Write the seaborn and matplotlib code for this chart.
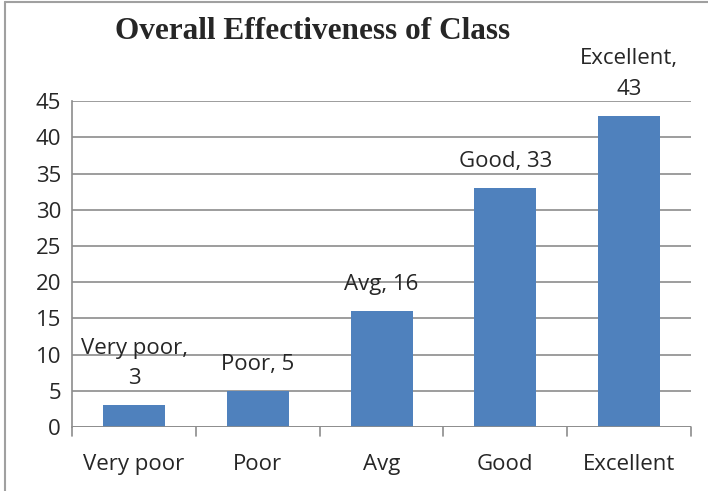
import matplotlib
matplotlib.use("Agg")
import matplotlib.pyplot as plt
import seaborn as sns
import pandas as pd
from matplotlib.lines import Line2D

categories = ["Very poor", "Poor", "Avg", "Good", "Excellent"]
counts = [3, 5, 16, 33, 43]
yticks = [0, 5, 10, 15, 20, 25, 30, 35, 40, 45]

sns.set_style("white")
plt.rcParams['font.family'] = ['Open Sans', 'DejaVu Sans']

df = pd.DataFrame({"category": categories, "count": counts})

fig = plt.figure(figsize=(7.08, 4.91), dpi=100)
ax = fig.add_axes([0.102, 0.130, 0.874, 0.664])

grid_col = "#8c8c8c"
sns.barplot(data=df, x="category", y="count", color="#4f81bd", saturation=1,
            width=0.5, linewidth=0, ax=ax, zorder=3)

ax.set_ylim(0, 45)
ax.set_xlim(-0.5, len(categories) - 0.5)
ax.set_yticks(yticks)
ax.yaxis.grid(True, color=grid_col, linewidth=1.2, zorder=0)
ax.set_axisbelow(True)
for s in ["top", "right", "bottom"]:
    ax.spines[s].set_visible(False)
ax.spines["left"].set_color(grid_col)
ax.spines["left"].set_linewidth(1.2)
ax.axhline(0, color=grid_col, linewidth=1.2, zorder=4)

fs = 16

# x ticks at category boundaries
ax.set_xticks(range(len(categories)))
ax.set_xticklabels(categories)
ax.tick_params(axis="x", length=0, pad=19, labelsize=fs)
for b in range(len(categories) + 1):
    ax.plot([b - 0.5, b - 0.5], [0, -1.2], color=grid_col, linewidth=1.2,
            clip_on=False, zorder=4)
ax.tick_params(axis="y", length=5, width=1.2, color=grid_col, labelsize=fs, pad=3)
ax.set_xlabel("")
ax.set_ylabel("")

labels = ["Very poor,\n3", "Poor, 5", "Avg, 16", "Good, 33", "Excellent,\n43"]
for i, (lab, v) in enumerate(zip(labels, counts)):
    ax.text(i, v + 2.2, lab, ha="center", va="bottom", fontsize=fs,
            linespacing=1.6, clip_on=False)

fig.text(0.442, 0.935, "Overall Effectiveness of Class", ha="center", va="center",
         fontsize=22.5, fontweight="bold", family=["Liberation Serif", "DejaVu Serif"])

# outer frame lines
fig.add_artist(Line2D([0.007, 1.0], [0.995, 0.995], color="#a0a0a0", linewidth=1.5,
                      transform=fig.transFigure))
fig.add_artist(Line2D([0.007, 0.007], [0.0, 0.995], color="#a0a0a0", linewidth=1.5,
                      transform=fig.transFigure))

fig.savefig("out.png", dpi=100)
